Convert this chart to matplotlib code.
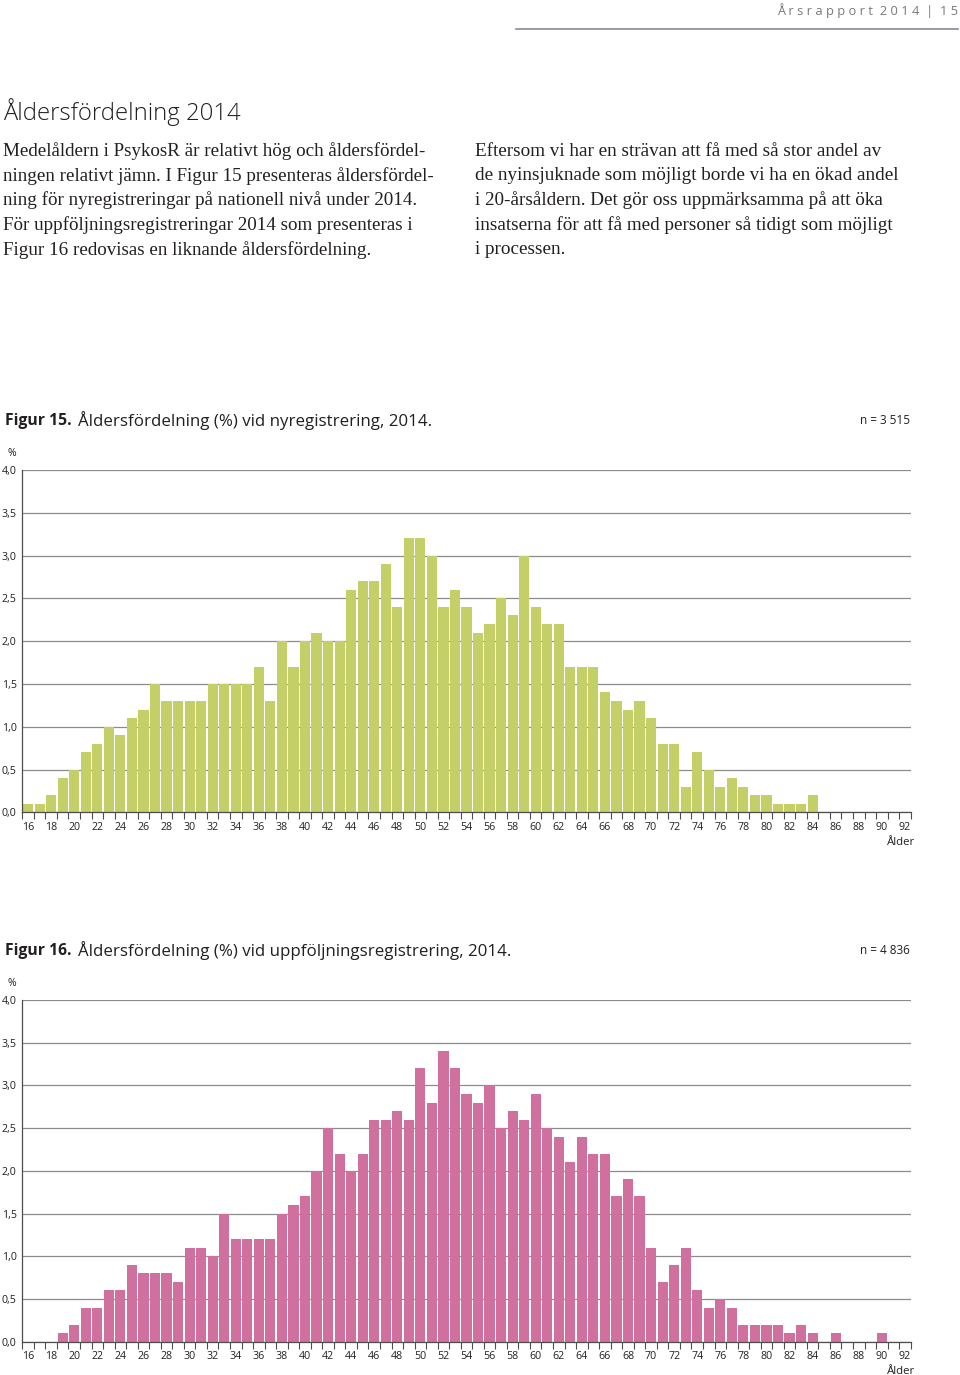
import matplotlib
matplotlib.use("Agg")
import matplotlib.pyplot as plt
from matplotlib.ticker import FixedLocator, NullFormatter, FuncFormatter

# ---- data -------------------------------------------------------------
ages = list(range(16, 93))

# Figur 15: nyregistrering 2014 (%), age 16..92
new_reg = [0.1, 0.1, 0.2, 0.4, 0.5, 0.7, 0.8, 1.0, 0.9, 1.1,
           1.2, 1.5, 1.3, 1.3, 1.3, 1.3, 1.5, 1.5, 1.5, 1.5,
           1.7, 1.3, 2.0, 1.7, 2.0, 2.1, 2.0, 2.0, 2.6, 2.7,
           2.7, 2.9, 2.4, 3.2, 3.2, 3.0, 2.4, 2.6, 2.4, 2.1,
           2.2, 2.5, 2.3, 3.0, 2.4, 2.2, 2.2, 1.7, 1.7, 1.7,
           1.4, 1.3, 1.2, 1.3, 1.1, 0.8, 0.8, 0.3, 0.7, 0.5,
           0.3, 0.4, 0.3, 0.2, 0.2, 0.1, 0.1, 0.1, 0.2, 0.0,
           0.0, 0.0, 0.0, 0.0, 0.0, 0.0, 0.0]

# Figur 16: uppföljningsregistrering 2014 (%), age 16..92
follow_reg = [0.0, 0.0, 0.0, 0.1, 0.2, 0.4, 0.4, 0.6, 0.6, 0.9,
              0.8, 0.8, 0.8, 0.7, 1.1, 1.1, 1.0, 1.5, 1.2, 1.2,
              1.2, 1.2, 1.5, 1.6, 1.7, 2.0, 2.5, 2.2, 2.0, 2.2,
              2.6, 2.6, 2.7, 2.6, 3.2, 2.8, 3.4, 3.2, 2.9, 2.8,
              3.0, 2.5, 2.7, 2.6, 2.9, 2.5, 2.4, 2.1, 2.4, 2.2,
              2.2, 1.7, 1.9, 1.7, 1.1, 0.7, 0.9, 1.1, 0.6, 0.4,
              0.5, 0.4, 0.2, 0.2, 0.2, 0.2, 0.1, 0.2, 0.1, 0.0,
              0.1, 0.0, 0.0, 0.0, 0.1, 0.0, 0.0]

y_ticks = [0.0, 0.5, 1.0, 1.5, 2.0, 2.5, 3.0, 3.5, 4.0]

left_text = [
    "Medelåldern i PsykosR är relativt hög och åldersfördel-",
    "ningen relativt jämn. I Figur 15 presenteras åldersfördel-",
    "ning för nyregistreringar på nationell nivå under 2014.",
    "För uppföljningsregistreringar 2014 som presenteras i",
    "Figur 16 redovisas en liknande åldersfördelning.",
]
right_text = [
    "Eftersom vi har en strävan att få med så stor andel av",
    "de nyinsjuknade som möjligt borde vi ha en ökad andel",
    "i 20-årsåldern. Det gör oss uppmärksamma på att öka",
    "insatserna för att få med personer så tidigt som möjligt",
    "i processen.",
]

W, H = 960, 1375
SANS = ["Open Sans", "DejaVu Sans"]
SERIF = ["Liberation Serif", "DejaVu Serif"]
TXT = "#231f20"


def px(x, y):
    return x / W, 1 - y / H


fig = plt.figure(figsize=(W / 100, H / 100), dpi=100)

# page header
fig.text(*px(958, 11), "Å r s r a p p o r t  2 0 1 4  |  1 5", ha="right", va="center",
         fontsize=9.3, color="#7a7a7a", family=SANS)
fig.add_artist(plt.Line2D([516 / W, 958 / W], [1 - 28.5 / H] * 2,
                          color="#8a8a9a", lw=1.2))

fig.text(*px(3, 112), "Åldersfördelning 2014", ha="left", va="center",
         fontsize=17.2, color=TXT, family=SANS, fontweight="light")

for i, line in enumerate(left_text):
    fig.text(*px(3, 151 + i * 24.7), line, ha="left", va="center",
             fontsize=13.7, color=TXT, family=SERIF)
for i, line in enumerate(right_text):
    fig.text(*px(475, 151 + i * 24.7), line, ha="left", va="center",
             fontsize=13.8, color=TXT, family=SERIF)


def histo(y_top, y_zero, values, color, fig_no, caption, n_text):
    x0, x1 = 22.3, 910.7
    ax = fig.add_axes([x0 / W, 1 - y_zero / H, (x1 - x0) / W, (y_zero - y_top) / H])
    ax.set_axisbelow(True)
    ax.bar(ages, values, width=0.88, color=color, zorder=2)
    ax.set_xlim(15.5, 92.5)
    ax.set_ylim(0, 4.0)
    ax.set_yticks(y_ticks)
    ax.yaxis.set_major_formatter(FuncFormatter(lambda v, p: f"{v:.1f}".replace(".", ",")))
    ax.grid(axis="y", color="#8c8c8c", lw=0.9)
    for s in ("top", "right"):
        ax.spines[s].set_visible(False)
    for s in ("left", "bottom"):
        ax.spines[s].set_color("#4d4d4d")
        ax.spines[s].set_linewidth(0.9)
    ax.tick_params(axis="y", length=0, pad=4, labelsize=7.7, labelcolor=TXT)
    # ticks at bar edges, labels under every second bar
    ax.xaxis.set_major_locator(FixedLocator([a - 0.5 for a in ages] + [92.5]))
    ax.xaxis.set_major_formatter(NullFormatter())
    ax.xaxis.set_minor_locator(FixedLocator([a for a in ages if a % 2 == 0]))
    ax.xaxis.set_minor_formatter(FuncFormatter(lambda v, p: f"{int(v)}"))
    ax.tick_params(axis="x", which="major", length=5, width=0.8, color="#4d4d4d")
    ax.tick_params(axis="x", which="minor", length=0, pad=7, labelsize=7.7,
                   labelcolor=TXT)
    for lab in ax.get_yticklabels() + ax.get_xticklabels(minor=True):
        lab.set_family(SANS)

    fig.text(*px(12, y_top - 17), "%", ha="center", va="center",
             fontsize=7.5, color=TXT, family=SANS)
    fig.text(*px(915, y_zero + 30), "Ålder", ha="right", va="center",
             fontsize=8.2, color=TXT, family=SANS)
    fig.text(*px(5, y_top - 49), f"Figur {fig_no}.", ha="left", va="center",
             fontsize=11.3, color=TXT, family=SANS, fontweight="bold")
    fig.text(*px(78, y_top - 49), caption, ha="left", va="center",
             fontsize=12.2, color=TXT, family=SANS)
    fig.text(*px(910, y_top - 50), n_text, ha="right", va="center",
             fontsize=8.5, color=TXT, family=SANS)
    return ax


histo(470, 812.3, new_reg, "#c5cf68", 15,
      "Åldersfördelning (%) vid nyregistrering, 2014.", "n = 3 515")
histo(1000, 1341.7, follow_reg, "#d0709f", 16,
      "Åldersfördelning (%) vid uppföljningsregistrering, 2014.", "n = 4 836")

fig.savefig("out.png", dpi=100, facecolor="white")
